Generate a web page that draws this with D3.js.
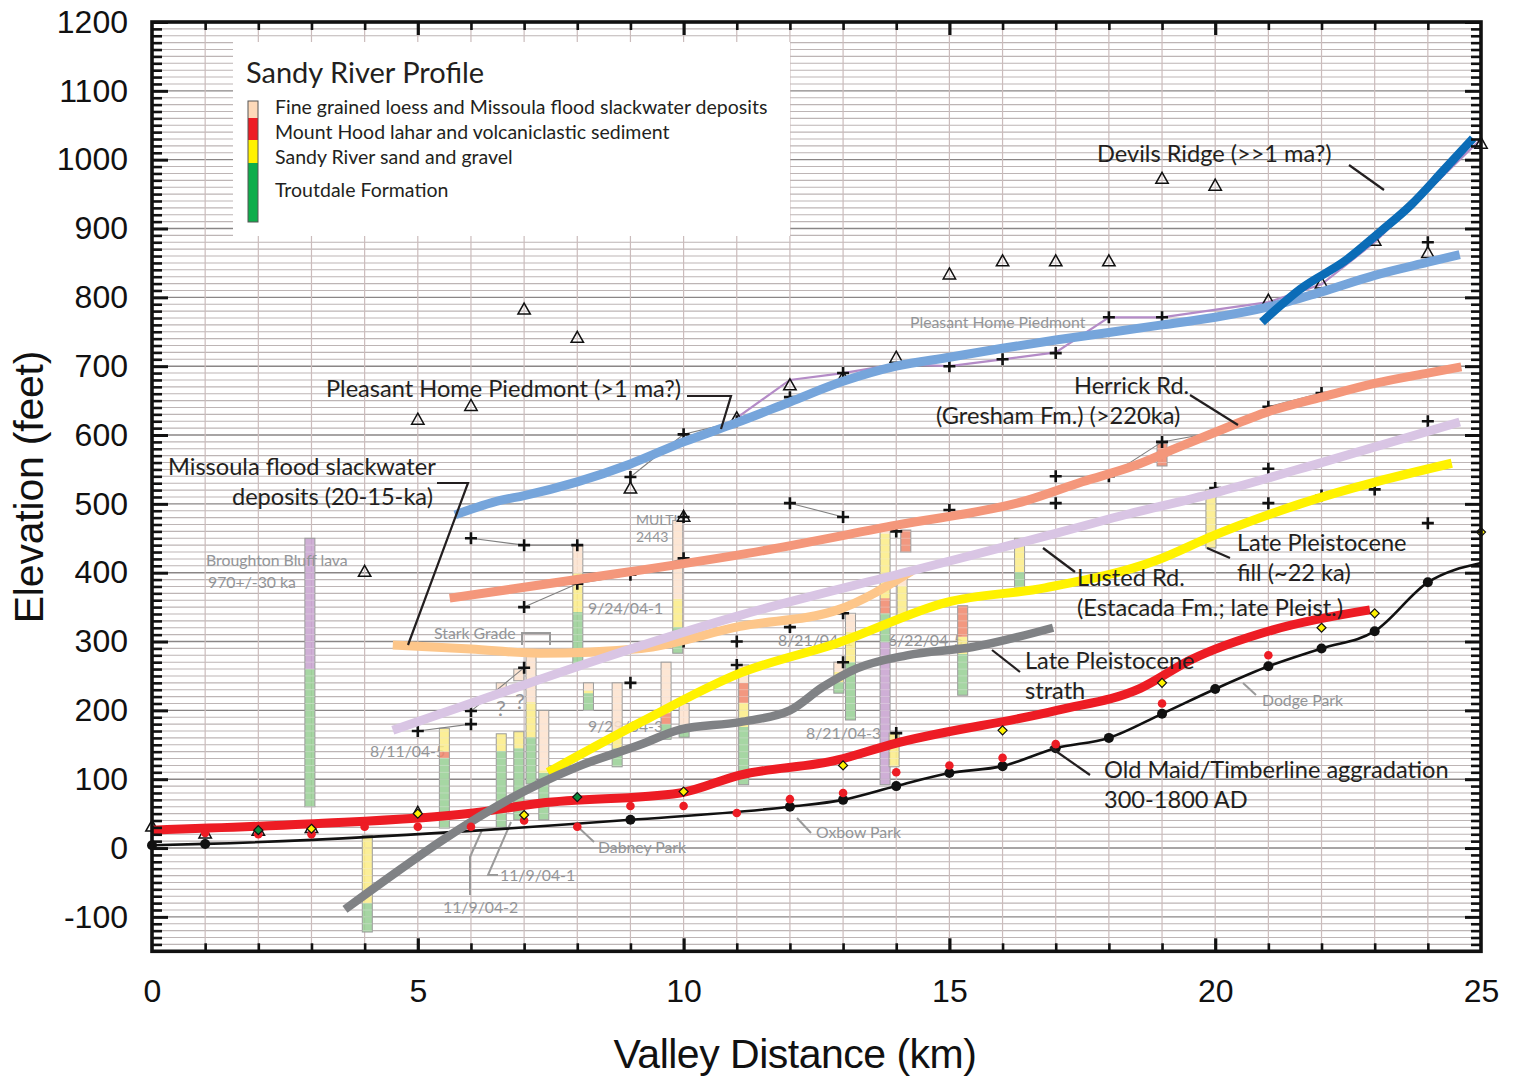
<!DOCTYPE html>
<html><head><meta charset="utf-8">
<script src="https://cdn.jsdelivr.net/npm/d3@7"></script>
<style>body{margin:0;background:#fff}svg{display:block}</style>
</head><body>
<svg id="c" width="1515" height="1081"></svg>
<script>
// ---------------- DATA ----------------
const xTicks = [0,5,10,15,20,25];
const yTicks = [-100,0,100,200,300,400,500,600,700,800,900,1000,1100,1200];

const legendItems = ["Fine grained loess and Missoula flood slackwater deposits","Mount Hood lahar and volcaniclastic sediment","Sandy River sand and gravel","Troutdale Formation"];

// modern thalweg (km, ft)
const thalweg = [[0,4],[1,6],[9,41],[12,60],[13,70],[14,90],[15,109],[16,119],[17,145],[18,160],[19,195],[20,231],[21,264],[22,290],[23,315],[24,386],[25,414]];
const redDots = [[1,22],[2,20],[3,20],[4,31],[5,31],[6,31],[7,40],[8,31],[9,61],[10,61],[11,51],[12,71],[13,80],[14,110],[15,120],[16,131],[17,151],[19,210],[21,280]];
const yellowDiamonds = [[3,28],[5,50],[7,48],[10,82],[13,120],[16,171],[19,240],[22,320],[23,341],[25,459]];
const greenDiamonds = [[2,26],[8,74]];
const triangles = [[0,32],[1,22],[2,26],[3,30],[4,402],[5,623],[5,52],[6,643],[7,783],[8,742],[9,523],[10,482],[11,625],[12,673],[13,684],[14,713],[15,834],[16,853],[17,853],[18,853],[19,973],[20,963],[21,796],[22,821],[23,883],[24,865],[25,1024]];
const crosses = [[5,170],[6,450],[6,180],[6,199],[7,440],[7,350],[7,262],[8,440],[8,384],[9,539],[9,240],[9,397],[10,601],[10,421],[10,481],[10,300],[11,300],[11,266],[11,620],[12,501],[12,321],[12,655],[13,481],[13,341],[13,270],[13,690],[14,167],[14,460],[15,491],[15,700],[16,710],[17,719],[17,540],[17,501],[18,771],[18,540],[19,771],[19,590],[20,523],[21,641],[21,551],[21,501],[22,661],[22,512],[23,521],[24,620],[24,472],[24,880]];
const connectors = [
  [[5,170],[6,180]],
  [[6,450],[7,440],[8,440]],
  [[6,199],[7,262]],
  [[7,350],[8,384],[9,397],[10,421]],
  [[9,539],[10,601],[10.7,614]],
  [[10,300],[11,300]],
  [[12,501],[13,481]],
  [[17,540],[18,540],[19,590],[20,604]],
  [[21,641],[22,661]]
];
const piedmontPoints = [[11,625],[12,680],[13,690],[14,703],[15,700],[16,710],[17,720],[18,771],[19,771],[21,793],[22,819],[23,880],[24,955],[25,1030]];

// terrace / fill profiles (km, ft)
const pleasantHome = [[5.7,484],[6.55,505],[7,512],[8,532],[9,558],[10,590],[11,618],[12,648],[13,678],[14,700],[15,713],[16,726],[17,738],[18,749],[19,760],[20,771],[21,786],[22,808],[23,832],[24,851],[24.6,862]];
const devilsRidge = [[20.88,764],[21.6,812],[22.46,854],[23.1,895],[23.68,934],[24.3,985],[24.85,1031]];
const herrick = [[5.6,363],[7.9,389],[11.2,428],[14,469],[16.46,505],[17.5,532],[18.5,556],[19.3,582],[20,604],[21,634],[22,655],[23,675],[24,690],[24.63,699]];
const lusted = [[4.53,171],[5.8,205],[8.56,278],[11.06,338],[14.2,401],[17,457],[18,478],[20,516],[22,560],[24.6,619]];
const missoula = [[4.53,295],[6,289],[7.3,283],[9.2,290],[11.06,322],[12.9,346],[14.3,403]];
const lateFill = [[7.45,110],[9.2,183],[11.06,254],[12.9,298],[14.95,357],[16.8,378],[18.9,418],[20,455],[21.6,500],[24.45,559]];
const strath = [[3.63,-89],[7.3,94],[8,118],[9.18,150],[9.93,172],[11.06,183],[12,200],[12.62,234],[13.26,261],[14.2,280],[15.44,292],[16.95,320]];
const oldMaid = [[0,26],[2.92,35],[6.04,51],[7.3,65],[9.93,80],[11.06,106],[12.9,128],[13.88,150],[17.02,200],[18.59,232],[19.53,273],[21.09,317],[22.91,346]];

// stratigraphic columns: km, [unit, base ft, top ft]
// units: l = loess/slackwater, r = lahar, y = sand & gravel, g = Troutdale, v = lava
const columns = [
  {km:2.97, segs:[["g",60,260],["v",260,450]]},
  {km:4.05, segs:[["g",-122,-80],["y",-80,18]]},
  {km:5.50, segs:[["g",29,131],["r",131,140],["y",140,174]]},
  {km:6.57, segs:[["g",30,141],["y",141,166]]},
  {km:6.57, segs:[["l",225,240]]},
  {km:6.90, segs:[["g",41,145],["y",145,169]]},
  {km:6.90, segs:[["l",243,260]]},
  {km:7.13, segs:[["g",93,161],["y",161,212],["l",212,280]]},
  {km:7.37, segs:[["g",41,109],["y",109,113],["l",113,200]]},
  {km:8.01, segs:[["g",264,343],["y",343,399],["l",399,440]]},
  {km:8.21, segs:[["g",200,225],["y",225,229],["l",229,240]]},
  {km:8.75, segs:[["g",118,145],["y",145,164],["l",164,240]]},
  {km:9.67, segs:[["g",158,180],["r",180,196],["y",196,200],["l",200,270]]},
  {km:9.89, segs:[["g",283,321],["y",321,362],["l",362,476]]},
  {km:10.01, segs:[["g",161,179],["l",179,210]]},
  {km:11.13, segs:[["g",92,176],["y",176,211],["r",211,240],["l",240,266]]},
  {km:12.92, segs:[["g",225,241],["y",241,256],["l",256,270]]},
  {km:13.14, segs:[["g",186,270],["y",270,314],["l",314,341]]},
  {km:13.79, segs:[["v",92,299],["g",299,341],["r",341,363],["y",363,457],["l",457,466]]},
  {km:13.96, segs:[["y",118,167]]},
  {km:14.11, segs:[["y",338,381],["l",381,394]]},
  {km:14.18, segs:[["r",430,462]]},
  {km:15.25, segs:[["g",222,282],["y",282,307],["r",307,352]]},
  {km:16.32, segs:[["g",379,401],["y",401,450]]},
  {km:19.00, segs:[["r",555,588]]},
  {km:19.92, segs:[["y",436,521]]}
];

// ---------------- DRAWING ----------------
const svg = d3.select("#c");
const x = d3.scaleLinear([0,25],[152,1481]);
const y = d3.scaleLinear([-150,1200],[951.3,22]);
const SANS = "Lato, 'Open Sans', sans-serif";
const HELV = "'Liberation Sans', Arial, sans-serif";
const INK = "#231f20", GREY = "#939598";

// grid
const grid = svg.append("g");
grid.selectAll("line.h").data(d3.range(-140,1200,10)).join("line")
  .attr("x1",x(0)).attr("x2",x(25)).attr("y1",d=>y(d)).attr("y2",d=>y(d))
  .attr("stroke",d=>d%100===0?"#8a8686":"#bdb5b5").attr("stroke-width",d=>d%100===0?1.4:1.1);
grid.selectAll("line.v").data(d3.range(1,25)).join("line")
  .attr("x1",d=>x(d)).attr("x2",d=>x(d)).attr("y1",y(1200)).attr("y2",y(-150))
  .attr("stroke","#cbbcbc").attr("stroke-width",1.2);

// legend
const lg = svg.append("g");
lg.append("rect").attr("x",233).attr("y",42).attr("width",557).attr("height",194).attr("fill","#fff");
lg.append("text").attr("x",246).attr("y",83).text("Sandy River Profile")
  .attr("font-family",SANS).attr("font-size",29).attr("fill",INK);
const legendBar = [["#fdd9b9",101,118],["#ed1c24",118,140],["#fff200",140,163],["#0ead4b",163,222]];
lg.selectAll("rect.lb").data(legendBar).join("rect").attr("x",248).attr("width",10)
  .attr("y",d=>d[1]).attr("height",d=>d[2]-d[1]).attr("fill",d=>d[0]);
lg.append("rect").attr("x",248).attr("y",101).attr("width",10).attr("height",121).attr("fill","none").attr("stroke","#555").attr("stroke-width",1);
lg.selectAll("text.li").data(legendItems).join("text").attr("x",275)
  .attr("y",(d,i)=>[114,139,164,197][i]).text(d=>d)
  .attr("font-family",SANS).attr("font-size",19.5).attr("fill",INK);

// grey sample labels (under columns)
const greyLabels = [
  ["Stark Grade",434,639],
  ["MULTI",636,525],["2443",636,542],["9/24/04-1",588,614],["8/21/04-1",778,646],
  ["6/22/04-5",888,646],["9/29/04-3",588,732],["8/21/04-3",806,739],["8/11/04-5",370,757],
  ["11/9/04-1",500,881],["11/9/04-2",443,913],["Dabney Park",598,853],["Oxbow Park",816,838],
  ["Dodge Park",1262,706],["Pleasant Home Piedmont",910,328]
];
const greyTop = [["Broughton Bluff lava",206,566],["970+/-30 ka",208,588]];
svg.append("g").selectAll("text").data(greyLabels).join("text")
  .attr("x",d=>d[1]).attr("y",d=>d[2]).text(d=>d[0])
  .attr("font-family",SANS).attr("font-size",d=>d[0]==="MULTI"||d[0]==="2443"?14:15.8).attr("fill",GREY);
svg.append("g").selectAll("text").data([[501,716],[520,709]]).join("text")
  .attr("x",d=>d[0]).attr("y",d=>d[1]).attr("text-anchor","middle").text("?")
  .attr("font-family",SANS).attr("font-size",22).attr("fill",GREY);
const greyLeaders = ["M522,645V633H550V645","M578,827L594,842","M797,818L811,833","M1243,683L1256,695",
  "M511,822L488,875H498","M482,830L470,857V895"];
svg.append("g").selectAll("path").data(greyLeaders).join("path").attr("d",d=>d)
  .attr("fill","none").attr("stroke","#9a9a9a").attr("stroke-width",2);

// columns
const unitColor = {l:"#fde2cc", r:"#f0866a", y:"#fbec85", g:"#96cf93", v:"#c7a1cf"};
const colW = 10;
const cg = svg.append("g").selectAll("g").data(columns).join("g");
cg.selectAll("rect").data(d=>d.segs.map(s=>({km:d.km,u:s[0],a:s[1],b:s[2]}))).join("rect")
  .attr("x",d=>x(d.km)-colW/2).attr("width",colW)
  .attr("y",d=>y(d.b)).attr("height",d=>y(d.a)-y(d.b))
  .attr("fill",d=>unitColor[d.u]).attr("fill-opacity",0.85);
cg.append("rect").attr("x",d=>x(d.km)-colW/2).attr("width",colW)
  .attr("y",d=>y(d3.max(d.segs,s=>s[2]))).attr("height",d=>y(d3.min(d.segs,s=>s[1]))-y(d3.max(d.segs,s=>s[2])))
  .attr("fill","none").attr("stroke","#9b9b9b").attr("stroke-width",1);
cg.each(function(d){
  const lo=d3.min(d.segs,s=>s[1]), hi=d3.max(d.segs,s=>s[2]);
  d3.select(this).selectAll("line").data(d3.range(Math.ceil(lo/10)*10,hi,10)).join("line")
   .attr("x1",x(d.km)-colW/2).attr("x2",x(d.km)+colW/2).attr("y1",v=>y(v)).attr("y2",v=>y(v))
   .attr("stroke","#ffffff").attr("stroke-opacity",0.35).attr("stroke-width",1);
});
svg.append("g").selectAll("text").data(greyTop).join("text")
  .attr("x",d=>d[1]).attr("y",d=>d[2]).text(d=>d[0])
  .attr("font-family",SANS).attr("font-size",15.8).attr("fill",GREY);

const lineGen = d3.line().x(d=>x(d[0])).y(d=>y(d[1]));
const smooth = d3.line().x(d=>x(d[0])).y(d=>y(d[1])).curve(d3.curveMonotoneX);

// thin connectors
svg.append("g").selectAll("path").data(connectors).join("path").attr("d",lineGen)
  .attr("fill","none").attr("stroke","#808080").attr("stroke-width",1.1);
svg.append("path").datum(piedmontPoints).attr("d",lineGen)
  .attr("fill","none").attr("stroke","#b48bc7").attr("stroke-width",2.2);

// crosses & triangles
svg.append("g").selectAll("path").data(crosses).join("path")
  .attr("transform",d=>`translate(${x(d[0])},${y(d[1])})`).attr("d","M-6,0H6M0,-6V6")
  .attr("stroke","#111").attr("stroke-width",2.6);
svg.append("g").selectAll("path").data(triangles).join("path")
  .attr("transform",d=>`translate(${x(d[0])},${y(d[1])})`).attr("d","M0,-6L6.2,5L-6.2,5Z")
  .attr("fill","none").attr("stroke","#111").attr("stroke-width",1.5);

// thick profiles
const profiles = [
  [missoula,"#fdc68a",9],[lusted,"#d9c5e4",9],[herrick,"#f4977b",9],
  [pleasantHome,"#76a5db",9],[devilsRidge,"#0b6cb7",8.5],[lateFill,"#fff200",9],
  [thalweg,"#111111",2.6],[oldMaid,"#ed1c24",9],[strath,"#808285",8.5]
];
svg.append("g").selectAll("path").data(profiles).join("path")
  .attr("d",d=>smooth(d[0])).attr("fill","none").attr("stroke",d=>d[1]).attr("stroke-width",d=>d[2]);

// point markers
svg.append("g").selectAll("circle").data(thalweg.slice(0,-1)).join("circle")
  .attr("cx",d=>x(d[0])).attr("cy",d=>y(d[1])).attr("r",5).attr("fill","#111");
svg.append("g").selectAll("circle").data(redDots).join("circle")
  .attr("cx",d=>x(d[0])).attr("cy",d=>y(d[1])).attr("r",4.3).attr("fill","#ed1c24");
svg.append("g").selectAll("path").data(yellowDiamonds.map(d=>[d,"#fff200"]).concat(greenDiamonds.map(d=>[d,"#0b8a3c"]))).join("path")
  .attr("transform",d=>`translate(${x(d[0][0])},${y(d[0][1])})`).attr("d","M0,-4.5L4.5,0L0,4.5L-4.5,0Z")
  .attr("fill",d=>d[1]).attr("stroke","#111").attr("stroke-width",1.2);

// annotations
const notes = [
  ["Devils Ridge (>>1 ma?)",1097,162,"start"],
  ["Pleasant Home Piedmont (>1 ma?)",326,397,"start"],
  ["Herrick Rd.",1074,394,"start"],["(Gresham Fm.) (>220ka)",936,424,"start"],
  ["Missoula flood slackwater",168,475,"start"],["deposits (20-15-ka)",433,505,"end"],
  ["Late Pleistocene",1237,551,"start"],["fill (~22 ka)",1237,581,"start"],
  ["Lusted Rd.",1077,586,"start"],["(Estacada Fm.; late Pleist.)",1077,616,"start"],
  ["Late Pleistocene",1025,669,"start"],["strath",1025,699,"start"],
  ["Old Maid/Timberline aggradation",1104,778,"start"],["300-1800 AD",1104,808,"start"]
];
svg.append("g").selectAll("text").data(notes).join("text")
  .attr("x",d=>d[1]).attr("y",d=>d[2]).attr("text-anchor",d=>d[3]).text(d=>d[0])
  .attr("font-family",SANS).attr("font-size",23.6).attr("fill",INK);
const leaders = ["M1349,165L1384,190","M687,396H731L721,429","M1190,395L1238,425","M437,483H468L408,645",
  "M1207,548L1230,558","M1043,548L1075,572","M992,650L1020,672","M1050,747L1090,775"];
svg.append("g").selectAll("path").data(leaders).join("path").attr("d",d=>d)
  .attr("fill","none").attr("stroke",INK).attr("stroke-width",2.2);

// frame & ticks
svg.append("rect").attr("x",x(0)).attr("y",y(1200)).attr("width",x(25)-x(0)).attr("height",y(-150)-y(1200))
  .attr("fill","none").attr("stroke","#111").attr("stroke-width",3.6);
const yMinor = d3.range(-140,1200,10).filter(v=>v%100!==0);
const yMajor = d3.range(-100,1201,100);
const xMinor = d3.range(1,25).filter(v=>v%5!==0);
const xMajor = [5,10,15,20];
function tickAxis(axis, tx, ty, w){
  svg.append("g").attr("transform",`translate(${tx},${ty})`).call(axis.tickFormat(""))
    .call(s=>s.select(".domain").remove())
    .call(s=>s.selectAll("line").attr("stroke","#111").attr("stroke-width",w));
}
tickAxis(d3.axisRight(y).tickValues(yMinor).tickSize(10), x(0),0,2.6);
tickAxis(d3.axisRight(y).tickValues(yMajor).tickSize(16), x(0),0,3);
tickAxis(d3.axisLeft(y).tickValues(yMinor).tickSize(10), x(25),0,2.6);
tickAxis(d3.axisLeft(y).tickValues(yMajor).tickSize(16), x(25),0,3);
tickAxis(d3.axisBottom(x).tickValues(xMinor).tickSize(8), 0,y(1200),2.6);
tickAxis(d3.axisBottom(x).tickValues(xMajor).tickSize(13), 0,y(1200),3.2);
tickAxis(d3.axisTop(x).tickValues(xMinor).tickSize(8), 0,y(-150),2.6);
tickAxis(d3.axisTop(x).tickValues(xMajor).tickSize(13), 0,y(-150),3.2);

// tick labels
const plain = d => String(d);
svg.append("g").attr("transform","translate(128,0)")
  .call(d3.axisLeft(y).tickValues(yTicks).tickSize(0).tickPadding(0).tickFormat(plain))
  .call(s=>s.select(".domain").remove())
  .call(s=>s.selectAll("text").attr("font-family",HELV).attr("font-size",32).attr("fill","#111"));
svg.append("g").attr("transform","translate(0,979)")
  .call(d3.axisBottom(x).tickValues(xTicks).tickSize(0).tickPadding(0).tickFormat(plain))
  .call(s=>s.select(".domain").remove())
  .call(s=>s.selectAll("text").attr("font-family",HELV).attr("font-size",32).attr("fill","#111"));

// axis titles
svg.append("text").attr("x",795).attr("y",1068).attr("text-anchor","middle").text("Valley Distance (km)")
  .attr("font-family",HELV).attr("font-size",41).attr("letter-spacing",-0.5).attr("fill","#111");
svg.append("text").attr("transform","translate(43,487) rotate(-90)").attr("text-anchor","middle").text("Elevation (feet)")
  .attr("font-family",HELV).attr("font-size",41).attr("letter-spacing",-0.2).attr("fill","#111");
</script>
</body></html>
